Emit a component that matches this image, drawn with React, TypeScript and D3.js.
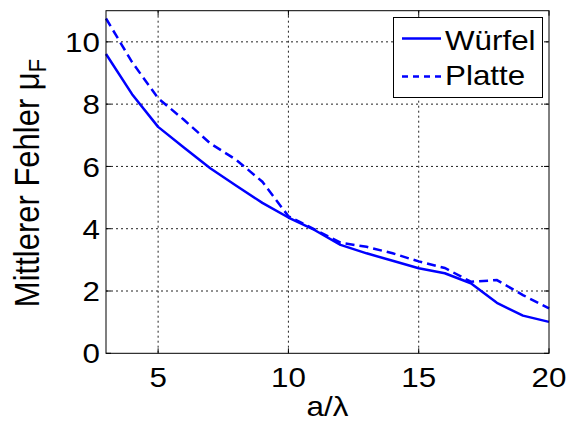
import React from "react";
import * as d3 from "d3";

const xValues = [3, 4, 5, 6, 7, 8, 9, 10, 11, 12, 13, 14, 15, 16, 17, 18, 19, 20];
const wuerfel = [9.61, 8.32, 7.27, 6.6, 5.94, 5.38, 4.83, 4.36, 3.96, 3.48, 3.21, 2.97, 2.73, 2.57, 2.25, 1.62, 1.21, 1.01];
const platte = [10.75, 9.35, 8.19, 7.49, 6.74, 6.21, 5.51, 4.4, 3.98, 3.55, 3.42, 3.21, 2.95, 2.74, 2.3, 2.35, 1.87, 1.44];
const xTicks = [5, 10, 15, 20];
const yTicks = [0, 2, 4, 6, 8, 10];
const seriesNames = ["Würfel", "Platte"];

const W = 566;
const H = 421;
const left = 106;
const right = 549;
const top = 10.7;
const bottom = 353.3;
const FONT = "'Liberation Sans', Arial, Helvetica, sans-serif";
const FS = 28;
const SX = 1.12;

function T({
  x,
  y,
  anchor = "start",
  dy,
  size = FS,
  children,
}: {
  x: number;
  y: number;
  anchor?: string;
  dy?: string;
  size?: number;
  children: React.ReactNode;
}) {
  return (
    <text transform={`translate(${x},${y}) scale(${SX},1)`} dy={dy} fontSize={size} textAnchor={anchor} fill="#000">
      {children}
    </text>
  );
}

export default function App() {
  const x = d3.scaleLinear().domain([3, 20]).range([left, right]);
  const y = d3.scaleLinear().domain([0, 11]).range([bottom, top]);
  const line = d3
    .line<number>()
    .x((_, i) => x(xValues[i]))
    .y((d) => y(d));

  const tickLen = 5;
  return (
    <svg
      width={W}
      height={H}
      style={{ position: "absolute", left: 0, top: 0, background: "#fff" }}
      fontFamily={FONT}
    >
      <rect x={0} y={0} width={W} height={H} fill="#fff" />
      {/* grid */}
      {xTicks
        .filter((t) => x(t) < right - 1)
        .map((t) => (
          <line key={"gx" + t} x1={x(t)} x2={x(t)} y1={top} y2={bottom} stroke="#222" strokeWidth={1} strokeDasharray="2,3" />
        ))}
      {yTicks
        .filter((t) => y(t) < bottom - 1)
        .map((t) => (
          <line key={"gy" + t} x1={left} x2={right} y1={y(t)} y2={y(t)} stroke="#222" strokeWidth={1} strokeDasharray="2,3" />
        ))}
      {/* ticks */}
      {xTicks.map((t) => (
        <g key={"tx" + t}>
          <line x1={x(t)} x2={x(t)} y1={bottom} y2={bottom - tickLen} stroke="#000" />
          <line x1={x(t)} x2={x(t)} y1={top} y2={top + tickLen} stroke="#000" />
          <T x={x(t)} y={386.5} anchor="middle">
            {t}
          </T>
        </g>
      ))}
      {yTicks.map((t) => (
        <g key={"ty" + t}>
          <line x1={left} x2={left + tickLen} y1={y(t)} y2={y(t)} stroke="#000" />
          <line x1={right} x2={right - tickLen} y1={y(t)} y2={y(t)} stroke="#000" />
          <T x={100} y={y(t)} dy="0.36em" anchor="end">
            {t}
          </T>
        </g>
      ))}
      {/* lines */}
      <path d={line(wuerfel) || ""} fill="none" stroke="#0000ff" strokeWidth={2.5} strokeLinejoin="round" />
      <path d={line(platte) || ""} fill="none" stroke="#0000ff" strokeWidth={2.5} strokeDasharray="9,5" />
      {/* axes box */}
      <rect x={left} y={top} width={right - left} height={bottom - top} fill="none" stroke="#000" strokeWidth={1} />
      {/* labels */}
      <T x={(left + right) / 2} y={415.5} anchor="middle">
        a/λ
      </T>
      <text transform={`translate(39,183) scale(${SX},1) rotate(-90)`} fontSize={31} textAnchor="middle" fill="#000">
        Mittlerer Fehler μ<tspan fontSize={22} dy="6">F</tspan>
      </text>
      {/* legend */}
      <rect x={393.5} y={17.5} width={149} height={80} fill="#fff" stroke="#000" strokeWidth={1} />
      <line x1={402} x2={441} y1={38.5} y2={38.5} stroke="#0000ff" strokeWidth={2.5} />
      <line x1={402} x2={441} y1={76.5} y2={76.5} stroke="#0000ff" strokeWidth={2.5} strokeDasharray="6,5" />
      <T x={445} y={50}>
        {seriesNames[0]}
      </T>
      <T x={445} y={85}>
        {seriesNames[1]}
      </T>
    </svg>
  );
}
